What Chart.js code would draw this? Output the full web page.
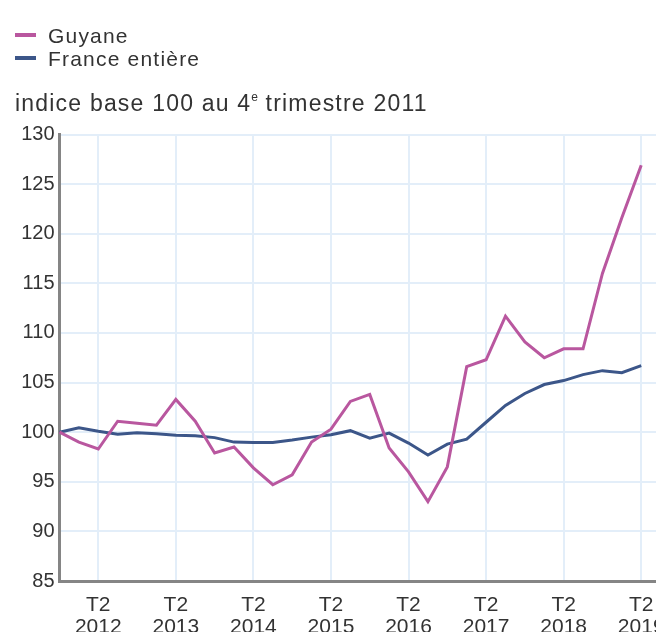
<!DOCTYPE html>
<html>
<head>
<meta charset="utf-8">
<script src="https://cdn.jsdelivr.net/npm/chart.js@4"></script>
<style>
  body { margin: 0; background: #fff; overflow: hidden; width: 656px; height: 632px; position: relative; }
  #wrap { position: absolute; left: 0; top: 0; width: 693px; height: 632px; }
  .txt { position: absolute; font-family: "Liberation Sans", Arial, sans-serif; color: #333; white-space: nowrap; }
  .key { position: absolute; left: 15px; width: 21px; height: 4px; }
  .legend { left: 48px; font-size: 21px; line-height: 22px; letter-spacing: 1.2px; }
  .sub { left: 15px; top: 84px; font-size: 23px; line-height: 26px; letter-spacing: 1.2px; }
  sup { font-size: 12px; vertical-align: 10px; letter-spacing: 0; }
</style>
</head>
<body>
<div id="wrap"><canvas id="chart" width="693" height="632"></canvas></div>
<div class="key" style="top:33px;background:#b9579f"></div>
<div class="txt legend" style="top:25px">Guyane</div>
<div class="key" style="top:56px;background:#3c5689"></div>
<div class="txt legend" style="top:48px">France entière</div>
<div class="txt sub">indice base 100 au 4<sup>e</sup> trimestre 2011</div>
<script>
// quarters from T4 2011 to T4 2019, ticks only shown on T2
const quarters = [
  'T4 2011',
  'T1 2012', 'T2 2012', 'T3 2012', 'T4 2012',
  'T1 2013', 'T2 2013', 'T3 2013', 'T4 2013',
  'T1 2014', 'T2 2014', 'T3 2014', 'T4 2014',
  'T1 2015', 'T2 2015', 'T3 2015', 'T4 2015',
  'T1 2016', 'T2 2016', 'T3 2016', 'T4 2016',
  'T1 2017', 'T2 2017', 'T3 2017', 'T4 2017',
  'T1 2018', 'T2 2018', 'T3 2018', 'T4 2018',
  'T1 2019', 'T2 2019', 'T3 2019', 'T4 2019'
];

const guyane = [100, 99.0, 98.3, 101.1, 100.9, 100.7, 103.3, 101.1, 97.9, 98.5,
  96.4, 94.7, 95.7, 99.0, 100.3, 103.1, 103.8, 98.4, 96.0, 93.0,
  96.5, 106.6, 107.3, 111.7, 109.1, 107.5, 108.4, 108.4, 116.0, 121.6, 126.9];

const franceEntiere = [100, 100.45, 100.1, 99.8, 99.95, 99.85, 99.7, 99.65, 99.45, 99.0,
  98.95, 98.95, 99.2, 99.5, 99.75, 100.15, 99.4, 99.9, 98.9, 97.7,
  98.8, 99.3, 101.0, 102.7, 103.9, 104.8, 105.2, 105.8, 106.2, 106.0, 106.7];

const yMin = 85;
const yMax = 130;
const yStep = 5;

const gridColor = '#e3eef9';
const axisColor = '#858585';
const textColor = '#333333';

new Chart(document.getElementById('chart'), {
  type: 'line',
  data: {
    labels: quarters,
    datasets: [
      {
        label: 'Guyane',
        data: guyane,
        borderColor: '#b9579f',
        borderWidth: 3,
        pointRadius: 0,
        tension: 0
      },
      {
        label: 'France entière',
        data: franceEntiere,
        borderColor: '#3c5689',
        borderWidth: 3,
        pointRadius: 0,
        tension: 0
      }
    ]
  },
  options: {
    responsive: false,
    animation: false,
    layout: { padding: { top: 134.5, right: 2, bottom: 0, left: 0 } },
    plugins: {
      legend: { display: false },
      tooltip: { enabled: false }
    },
    scales: {
      x: {
        offset: false,
        grid: {
          color: (ctx) => ctx.index % 4 === 2 ? gridColor : 'rgba(0,0,0,0)',
          lineWidth: 2,
          drawTicks: false
        },
        border: { color: axisColor, width: 3 },
        ticks: {
          autoSkip: false,
          maxRotation: 0,
          padding: 13,
          color: textColor,
          font: { family: 'Liberation Sans', size: 21, lineHeight: 1.05 },
          callback: function (value, index) {
            const label = quarters[index];
            if (!label.startsWith('T2')) return '';
            return ['T2', label.slice(3)];
          }
        },
        afterFit: (scale) => { scale.height = 51; }
      },
      y: {
        min: yMin,
        max: yMax,
        grid: { color: gridColor, lineWidth: 2, drawTicks: false },
        border: { color: axisColor, width: 3 },
        ticks: {
          stepSize: yStep,
          padding: 5,
          color: textColor,
          font: { family: 'Liberation Sans', size: 20 }
        },
        afterFit: (scale) => { scale.width = 59.5; }
      }
    }
  }
});
</script>
</body>
</html>
